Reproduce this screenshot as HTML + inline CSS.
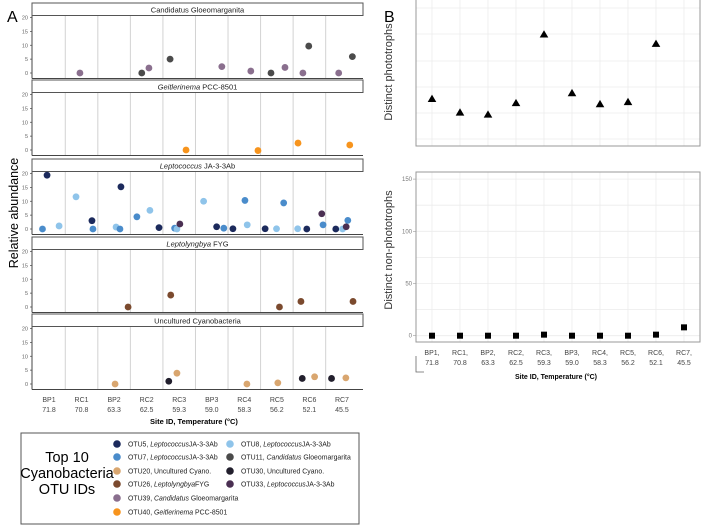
<!DOCTYPE html>
<html><head><meta charset="utf-8"><style>
html,body{margin:0;padding:0;background:#fff;}
svg{display:block;font-family:"Liberation Sans",Arial,sans-serif;}
</style></head><body>
<svg id="fig" width="709" height="525" viewBox="0 0 709 525" xmlns="http://www.w3.org/2000/svg">
<text x="7" y="22" font-size="16">A</text>
<text x="384" y="22" font-size="16">B</text>
<text transform="translate(18,213) rotate(-90)" text-anchor="middle" font-size="12.5">Relative abundance</text>
<g id="gA"></g>
<g id="gB"></g>
<g>
<rect x="21" y="433" width="338" height="91" fill="#fff" stroke="#555" stroke-width="1"/>
<text x="67" y="462" font-size="14.5" text-anchor="middle">Top 10</text>
<text x="67" y="478" font-size="14.5" text-anchor="middle">Cyanobacteria</text>
<text x="67" y="494" font-size="14.5" text-anchor="middle">OTU IDs</text>
<g id="legendItems"></g>
</g>
</svg>
<script>
// ---------- data: panel A ----------
const sites = ["BP1","RC1","BP2","RC2","RC3","BP3","RC4","RC5","RC6","RC7"];
const temps = ["71.8","70.8","63.3","62.5","59.3","59.0","58.3","56.2","52.1","45.5"];
const facets = ["Candidatus Gloeomarganita","Geitlerinema PCC-8501","Leptococcus JA-3-3Ab","Leptolyngbya FYG","Uncultured Cyanobacteria"];
const otuNames = ["OTU5","OTU7","OTU8","OTU11","OTU20","OTU26","OTU30","OTU33","OTU39","OTU40"];
const otuColors = ["#1c2a5c","#4a8ccb","#8fc4ea","#4b4b4b","#d9a66f","#7b4a2e","#221f2d","#4a2f52","#8a6f8e","#f7941d"];
const ptFacet = [0,0,0,0,0,0,0,0,0,0,0,0,
 1,1,1,1,
 2,2,2,2,2,2,2,2,2,2,2,2,2,2,2,2,2,2,2,2,2,2,2,2,2,2,2,2,2,2,2,2,
 3,3,3,3,3,
 4,4,4,4,4,4,4,4,4];
const ptOtu = ["OTU39","OTU11","OTU39","OTU11","OTU39","OTU39","OTU11","OTU39","OTU39","OTU11","OTU39","OTU11",
 "OTU40","OTU40","OTU40","OTU40",
 "OTU7","OTU5","OTU8","OTU8","OTU5","OTU7","OTU8","OTU7","OTU5","OTU7","OTU8","OTU5","OTU7","OTU8","OTU33","OTU8","OTU5","OTU7","OTU5","OTU7","OTU8","OTU5","OTU8","OTU7","OTU8","OTU5","OTU33","OTU7","OTU5","OTU8","OTU33","OTU7",
 "OTU26","OTU26","OTU26","OTU26","OTU26",
 "OTU20","OTU30","OTU20","OTU20","OTU20","OTU30","OTU20","OTU30","OTU20"];
const ptX = [0.95,2.85,3.07,3.72,5.31,6.20,6.82,7.25,7.80,7.98,8.90,9.32,
 4.21,6.42,7.65,9.24,
 -0.20,-0.06,0.31,0.83,1.32,1.35,2.06,2.18,2.21,2.70,3.10,3.38,3.86,3.93,4.02,4.75,5.15,5.37,5.65,6.02,6.09,6.64,6.99,7.21,7.64,7.92,8.38,8.42,8.81,9.02,9.13,9.18,
 2.43,3.74,7.08,7.74,9.34,
 2.03,3.68,3.93,6.08,7.03,7.78,8.16,8.68,9.12];
const ptVal = [0,0,1.8,5,2.3,0.7,0,2,0,9.7,0,5.9,
 0,-0.2,2.5,1.8,
 0,19.4,1.1,11.6,3,0,0.7,0,15.2,4.4,6.7,0.5,0.3,0,1.8,10,0.8,0.3,0.1,10.3,1.5,0.1,0.1,9.4,0.1,0,5.5,1.5,0,0,0.8,3.1,
 0,4.3,0,2,2,
 0,1,3.9,0,0.4,2,2.6,2,2.2];
const yTicksA = [0,5,10,15,20];
// ---------- data: panel B ----------
const phototrophs = [7.7,5.1,4.7,6.9,20,8.8,6.7,7.1,18.2];
const nonPhototrophs = [0,0,0,0,1,0,0,0,1,8];
const yTicksB = [0,50,100,150];

const NS="http://www.w3.org/2000/svg";
function mk(tag,attrs,parent){const e=document.createElementNS(NS,tag);for(const k in attrs)e.setAttribute(k,attrs[k]);parent.appendChild(e);return e;}
const colorOf = o => otuColors[otuNames.indexOf(o)];

// ---------- panel A ----------
const gA=document.getElementById('gA');
const axL=32, axR=363;
const xA = v => 49 + v*32.55;
const facetTop = [3,80,159,237,314];
const stripH=12.5;
facets.forEach((f,i)=>{
  const t=facetTop[i], pTop=t+stripH, y0=t+70, y20=t+14.5, pBot=t+75.5;
  const yA = v => y0 - (v/20)*(y0-y20);
  const g=mk('g',{},gA);
  
  
  for(let s=1;s<sites.length;s++){
    const x=(xA(s-1)+xA(s))/2;
    mk('line',{x1:x,x2:x,y1:pTop,y2:pBot,stroke:'#d2d2d2','stroke-width':1},g);
  }
  mk('line',{x1:axL,x2:axL,y1:pTop,y2:pBot,stroke:'#444','stroke-width':1},g);
  mk('line',{x1:axL,x2:axR,y1:pBot,y2:pBot,stroke:'#444','stroke-width':1},g);
  const st=mk('rect',{x:axL,y:t,width:axR-axL,height:stripH,fill:'#fff',stroke:'#555','stroke-width':1},g);
  
  
  const parts=f.split(' ');
  const tx=mk('text',{x:(axL+axR)/2,y:t+9.3,'font-size':7.5,'text-anchor':'middle',fill:'#222'},g);
  
  
  if(i===4){tx.textContent=f;}
  else{
    const it=mk('tspan',{'font-style':i===0?'normal':'italic'},tx); it.textContent=parts[0];
    const rest=mk('tspan',{},tx); rest.textContent=' '+parts.slice(1).join(' ');
  }
  yTicksA.forEach(v=>{
    const y=yA(v);
    mk('line',{x1:axL-2,x2:axL,y1:y,y2:y,stroke:'#444','stroke-width':0.7},g);
    const tl=mk('text',{x:axL-4,y:y+2,'font-size':5.5,'text-anchor':'end',fill:'#666'},g);
    
    
    tl.textContent=v;
  });
  for(let k=0;k<ptVal.length;k++){
    if(ptFacet[k]!==i) continue;
    const c=mk('circle',{cx:xA(ptX[k]),cy:yA(ptVal[k]),r:3.4,fill:colorOf(ptOtu[k])},g);
    
    
  }
});
sites.forEach((s,i)=>{
  const a=mk('text',{x:xA(i),y:402,'font-size':7,'text-anchor':'middle',fill:'#444'},gA);
  
  
  a.textContent=s;
  const b=mk('text',{x:xA(i),y:412,'font-size':7,'text-anchor':'middle',fill:'#444'},gA);
  
  
  b.textContent=temps[i];
});
const xt=mk('text',{x:194,y:424,'font-size':7.5,'font-weight':'bold','text-anchor':'middle'},gA);


xt.textContent='Site ID, Temperature (°C)';

// legend
const li=document.getElementById('legendItems');
const legOrder=[["OTU5","Leptococcus","JA-3-3Ab",0,0],["OTU7","Leptococcus","JA-3-3Ab",0,1],["OTU20","","Uncultured Cyano.",0,2],["OTU26","Leptolyngbya","FYG",0,3],["OTU39","Candidatus","Gloeomargarita",0,4],["OTU40","Geitlerinema","PCC-8501",0,5],
 ["OTU8","Leptococcus","JA-3-3Ab",1,0],["OTU11","Candidatus","Gloeomargarita",1,1],["OTU30","","Uncultured Cyano.",1,2],["OTU33","Leptococcus","JA-3-3Ab",1,3]];
const rowY=[444,457,471,484,498,512];
legOrder.forEach(e=>{
  const cx=e[3]?230:117, y=rowY[e[4]];
  const g=mk('g',{},li);
  
  
  mk('circle',{cx:cx,cy:y,r:3.8,fill:colorOf(e[0])},g);
  const t=mk('text',{x:cx+11,y:y+2.5,'font-size':6.9,fill:'#222'},g);
  const a=mk('tspan',{},t); a.textContent=e[0]+', ';
  if(e[1]){const b=mk('tspan',{'font-style':'italic'},t); b.textContent=e[1]+(e[2]==='JA-3-3Ab'||e[2]==='FYG'?'':' ');}
  const c=mk('tspan',{},t); c.textContent=e[2];
});

// ---------- panel B ----------
const gB=document.getElementById('gB');
const bL=416,bR=700;
const xB = i => 432 + i*28;
const yT = v => 139 - v*5.24;
const gt=mk('g',{},gB);


[8,34,61,87,113,139].forEach(y=>mk('line',{x1:bL,x2:bR,y1:y,y2:y,stroke:'#ececec','stroke-width':0.8},gt));
sites.forEach((s,i)=>mk('line',{x1:xB(i),x2:xB(i),y1:0,y2:146,stroke:'#ececec','stroke-width':0.8},gt));
mk('rect',{x:bL,y:-1,width:bR-bL,height:147,fill:'none',stroke:'#999','stroke-width':1},gt);
phototrophs.forEach((v,i)=>{
  const x=xB(i), y=yT(v);
  const p=mk('polygon',{points:`${x},${y-4} ${x-4.3},${y+3.3} ${x+4.3},${y+3.3}`,fill:'#000'},gt);
  
  
});
const yt1=mk('text',{transform:'translate(392,72) rotate(-90)','text-anchor':'middle','font-size':11,fill:'#333'},gB);


yt1.textContent='Distinct phototrophs';
const yN = v => 335.7 - v*1.044;
const gb=mk('g',{},gB);


[0,25,50,75,100,125,150].forEach(v=>mk('line',{x1:bL,x2:bR,y1:yN(v),y2:yN(v),stroke:'#ececec','stroke-width':0.8},gb));
sites.forEach((s,i)=>mk('line',{x1:xB(i),x2:xB(i),y1:172,y2:342,stroke:'#ececec','stroke-width':0.8},gb));
mk('rect',{x:bL,y:172,width:bR-bL,height:170,fill:'none',stroke:'#999','stroke-width':1},gb);
yTicksB.forEach(v=>{
  const t=mk('text',{x:412,y:yN(v)+2,'font-size':6,'text-anchor':'end',fill:'#777'},gb);
  
  
  t.textContent=v;
  mk('line',{x1:413,x2:bL,y1:yN(v),y2:yN(v),stroke:'#999','stroke-width':0.6},gb);
});
nonPhototrophs.forEach((v,i)=>{
  const r=mk('rect',{x:xB(i)-3,y:yN(v)-3,width:6,height:6,fill:'#000'},gb);
  
  
});
sites.forEach((s,i)=>{
  const a=mk('text',{x:xB(i),y:355,'font-size':7,'text-anchor':'middle',fill:'#444'},gB);
  
  
  a.textContent=s+',';
  const b=mk('text',{x:xB(i),y:365,'font-size':7,'text-anchor':'middle',fill:'#444'},gB);
  
  
  b.textContent=temps[i];
});
mk('polyline',{points:'416,356 416,372 424,372',fill:'none',stroke:'#666','stroke-width':0.8},gB);
const yt2=mk('text',{transform:'translate(392,250) rotate(-90)','text-anchor':'middle','font-size':11,fill:'#333'},gB);


yt2.textContent='Distinct non-phototrophs';
const xt2=mk('text',{x:556,y:379,'font-size':7,'font-weight':'bold','text-anchor':'middle'},gB);


xt2.textContent='Site ID, Temperature (°C)';
</script>
</body></html>
